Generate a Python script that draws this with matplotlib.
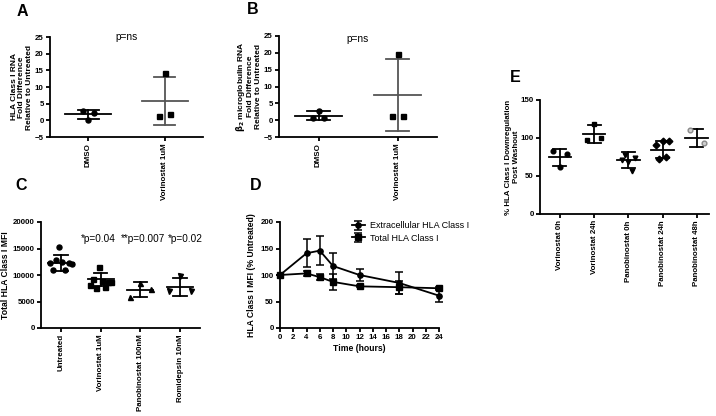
import matplotlib
matplotlib.use("Agg")
import matplotlib.pyplot as plt
import numpy as np

plt.rcParams['font.family'] = ['Liberation Sans', 'DejaVu Sans']

W, H = 716, 416

# ---------------- Data ----------------
# Panel A
a_cats = ["DMSO", "Vorinostat 1uM"]
a_pts = [[2.8, 0.2, 2.2], [1.3, 14.2, 1.8]]
a_mean = [1.8, 5.8]
a_sd = [1.4, 7.2]

# Panel B
b_cats = ["DMSO", "Vorinostat 1uM"]
b_pts = [[0.5, 2.8, 0.6], [1.3, 19.8, 1.3]]
b_mean = [1.3, 7.5]
b_sd = [1.35, 10.6]

# Panel C
c_cats = ["Untreated", "Vorinostat 1uM", "Panobinostat 100nM", "Romidepsin 10nM"]
c_pts = [[12200, 10900, 12900, 15200, 12400, 10900, 12300, 12100],
         [8200, 9300, 7600, 11600, 8900, 7700, 8600, 8600],
         [5900, 8400, 7300],
         [7000, 9900, 7000]]
c_mean = [12300, 9180, 7250, 7780]
c_sd = [1480, 1260, 1350, 1730]
c_annot = ["*p=0.04", "**p=0.007", "*p=0.02"]

# Panel D
d_time = [0, 4, 6, 8, 12, 18, 24]
d_extra = [100, 141, 146, 117, 100, 85, 61]
d_extra_err = [0, 26.5, 27, 25, 12, 21, 12.6]
d_total = [100, 103, 96, 87, 78.6, 77, 75]
d_total_err = [0, 4, 6, 15, 2, 12, 3]
d_labels = ["Extracellular HLA Class I", "Total HLA Class I"]

# Panel E
e_cats = ["Vorinostat 0h", "Vorinostat 24h", "Panobinostat 0h", "Panobinostat 24h", "Panobinostat 48h"]
e_pts = [[83, 62, 78.5],
         [97, 118, 99.5],
         [71, 77, 69, 56, 74],
         [91, 72, 96.5, 74.5, 96],
         [110, 93]]
e_mean = [74.5, 105, 70.5, 84.5, 100.5]
e_sd = [11.3, 11.5, 10.5, 11, 11.8]

# ---------------- Helpers ----------------
fig = plt.figure(figsize=(W / 100, H / 100), dpi=100)

TICK_FS = 5.7
LAB_FS = 6.2


def px_axes(l, t, r, b):
    return fig.add_axes([l / W, 1 - b / H, (r - l) / W, (b - t) / H])


def style(ax):
    for s in ("top", "right"):
        ax.spines[s].set_visible(False)
    for s in ("left", "bottom"):
        ax.spines[s].set_linewidth(1.3)
    ax.tick_params(width=1.3, length=3, labelsize=TICK_FS, pad=1.5)
    for lab in ax.get_xticklabels() + ax.get_yticklabels():
        lab.set_fontweight("bold")


def scatter_panel(ax, pts, means, sds, markers, colors, spread, mhalf, chalf,
                  ebcolors=None, ms=3.6, mfc=None):
    for i, (p, m, s) in enumerate(zip(pts, means, sds)):
        n = len(p)
        offs = np.linspace(-spread, spread, n) if n > 1 else np.zeros(1)
        ec = ebcolors[i] if ebcolors else "black"
        ax.plot([i - mhalf, i + mhalf], [m, m], color=ec, lw=1.3, zorder=2)
        ax.plot([i, i], [m - s, m + s], color=ec, lw=1.3, zorder=2)
        ax.plot([i - chalf, i + chalf], [m + s, m + s], color=ec, lw=1.3, zorder=2)
        ax.plot([i - chalf, i + chalf], [m - s, m - s], color=ec, lw=1.3, zorder=2)
        fc = mfc[i] if mfc else colors[i]
        ax.plot(i + offs, p, linestyle="none", marker=markers[i], ms=ms,
                color=colors[i], mfc=fc, zorder=3, clip_on=False)


# ---------------- Panel A ----------------
axA = px_axes(50, 37, 203, 137)
scatter_panel(axA, a_pts, a_mean, a_sd, ["o", "s"], ["black", "black"],
              0.07, 0.3, 0.14, ebcolors=["black", "#555555"])
axA.set_xlim(-0.5, 1.5)
axA.set_ylim(-5, 25)
axA.set_yticks([-5, 0, 5, 10, 15, 20, 25])
axA.set_xticks(range(len(a_cats)))
axA.set_xticklabels(a_cats, rotation=90)
axA.set_ylabel("HLA Class I RNA\nFold Difference\nRelative to Untreated",
               fontsize=6.0, fontweight="bold", labelpad=1.5, linespacing=1.1)
axA.text(0.5, 1.0, "p=ns", transform=axA.transAxes, ha="center", va="center",
         fontsize=7.3)
style(axA)

# ---------------- Panel B ----------------
axB = px_axes(279, 36, 437, 137)
scatter_panel(axB, b_pts, b_mean, b_sd, ["o", "s"], ["black", "black"],
              0.07, 0.3, 0.14, ebcolors=["black", "#555555"])
axB.set_xlim(-0.5, 1.5)
axB.set_ylim(-5, 25)
axB.set_yticks([-5, 0, 5, 10, 15, 20, 25])
axB.set_xticks(range(len(b_cats)))
axB.set_xticklabels(b_cats, rotation=90)
axB.set_ylabel("$\\mathbf{\\beta_2}$ microglobulin RNA\nFold Difference\nRelative to Untreated",
               fontsize=6.0, fontweight="bold", labelpad=1.5, linespacing=1.1)
axB.text(0.5, 0.97, "p=ns", transform=axB.transAxes, ha="center", va="center",
         fontsize=7.3)
style(axB)

# ---------------- Panel C ----------------
axC = px_axes(41, 222, 200, 328)
scatter_panel(axC, c_pts, c_mean, c_sd, ["o", "s", "^", "v"],
              ["black"] * 4, 0.27, 0.33, 0.17, ms=3.6)
axC.set_xlim(-0.5, 3.5)
axC.set_ylim(0, 20000)
axC.set_yticks([0, 5000, 10000, 15000, 20000])
axC.set_xticks(range(len(c_cats)))
axC.set_xticklabels(c_cats, rotation=90)
axC.set_ylabel("Total HLA Class I MFI", fontsize=LAB_FS, fontweight="bold", labelpad=2)
for xi, t in zip([0.95, 2.07, 3.12], c_annot):
    axC.text(xi, 16700, t, ha="center", va="center", fontsize=7.2)
style(axC)

# ---------------- Panel D ----------------
axD = px_axes(280, 222, 439, 328)
axD.errorbar(d_time, d_extra, yerr=d_extra_err, color="black", marker="o",
             ms=3.8, lw=1.3, capsize=3, elinewidth=1.1, capthick=1.1,
             label=d_labels[0], clip_on=False, zorder=3)
axD.errorbar(d_time, d_total, yerr=d_total_err, color="black", marker="s",
             ms=3.8, lw=1.3, capsize=3, elinewidth=1.1, capthick=1.1,
             label=d_labels[1], clip_on=False, zorder=3)
axD.set_xlim(0, 24)
axD.set_ylim(0, 200)
axD.set_xticks(range(0, 25, 2))
axD.set_yticks([0, 50, 100, 150, 200])
axD.set_xlabel("Time (hours)", fontsize=LAB_FS, fontweight="bold", labelpad=2)
axD.set_ylabel("HLA Class I MFI (% Untreated)", fontsize=LAB_FS, fontweight="bold",
               labelpad=3)
axD.legend(loc="upper left", bbox_to_anchor=(0.43, 1.04), frameon=False,
           fontsize=6.5, handlelength=1.4, handletextpad=0.6,
           labelspacing=0.35, borderaxespad=0)
style(axD)

# ---------------- Panel E ----------------
axE = px_axes(540, 100, 709, 214)
scatter_panel(axE, e_pts, e_mean, e_sd, ["o", "s", "v", "D", "o"],
              ["black", "black", "black", "black", "#8a8a8a"], 0.2, 0.33, 0.19,
              ms=3.4, mfc=["black", "black", "black", "black", "#d0d0d0"])
axE.set_xlim(-0.585, 4.36)
axE.set_ylim(0, 150)
axE.set_yticks([0, 50, 100, 150])
axE.set_xticks(range(len(e_cats)))
axE.set_xticklabels(e_cats, rotation=90)
axE.set_ylabel("% HLA Class I Downregulation\nPost Washout", fontsize=5.7,
               fontweight="bold", labelpad=0.5, linespacing=1.1)
style(axE)

# ---------------- Panel letters ----------------
for x, y, t in [(22, 12, "A"), (253, 9, "B"), (21, 185, "C"), (256, 185, "D"),
                (515, 78, "E")]:
    fig.text(x / W, 1 - y / H, t, fontsize=11.5, fontweight="bold",
             ha="center", va="center")

fig.savefig("out.png", dpi=100)
